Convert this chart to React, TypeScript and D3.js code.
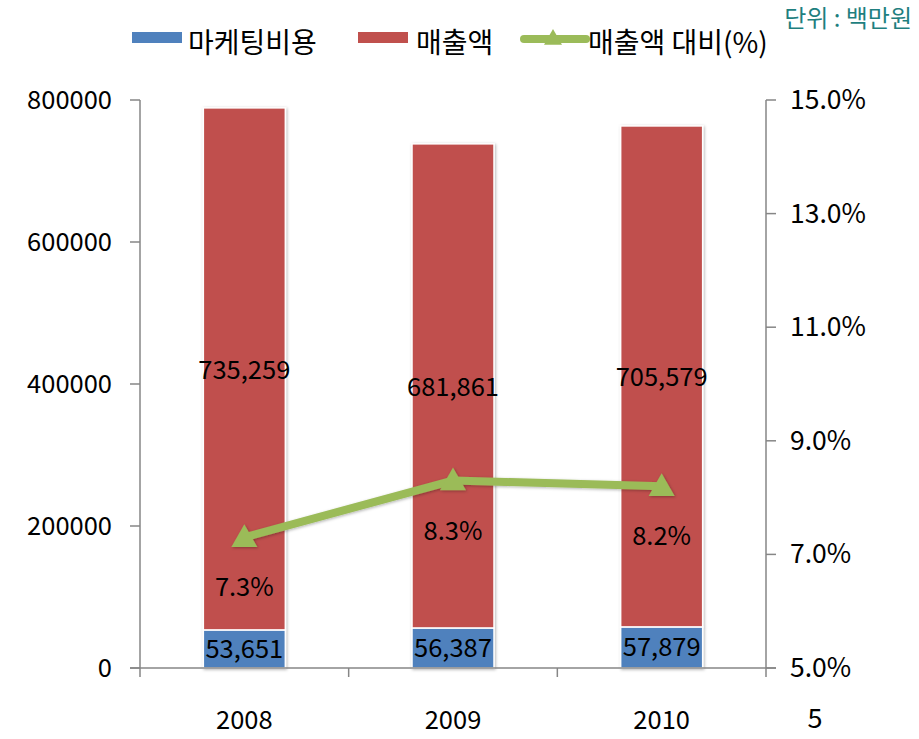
import React from "react";
import * as d3 from "d3";

const years = ["2008", "2009", "2010"];
const marketing = [53651, 56387, 57879];
const sales = [735259, 681861, 705579];
const ratio = [7.3, 8.3, 8.2];
const leftTicks = [0, 200000, 400000, 600000, 800000];
const rightTicks = [5, 7, 9, 11, 13, 15];

const W = 919, H = 739;
const left = 140, right = 766, top = 100, bottom = 668;
const FONT = "'Noto Sans CJK KR', 'Noto Sans', sans-serif";
const BLUE = "#4F81BD", RED = "#C0504D", GREEN = "#9BBB59", AXIS = "#868686";
const FS = 25.5;

export default function App() {
  const x = d3.scaleBand<string>().domain(years).range([left, right]).paddingInner(0).paddingOuter(0);
  const y = d3.scaleLinear().domain([0, 800000]).range([bottom, top]);
  const y2 = d3.scaleLinear().domain([5, 15]).range([bottom, top]);
  const bw = 82;
  const cx = (d: string) => (x(d) as number) + x.bandwidth() / 2;
  const fmt = d3.format(",");
  const line = d3.line<number>().x((_, i) => cx(years[i])).y((d) => y2(d));
  const tri = (px: number, py: number, s = 13) =>
    `M${px},${py - s} L${px + s},${py + s * 0.75} L${px - s},${py + s * 0.75} Z`;

  return (
    <svg width={W} height={H} style={{ position: "absolute", left: 0, top: 0, background: "#fff" }} fontFamily={FONT}>
      <defs>
        <filter id="sh" x="-20%" y="-20%" width="140%" height="140%">
          <feDropShadow dx="1" dy="1" stdDeviation="1.5" floodColor="#000" floodOpacity="0.3" />
        </filter>
      </defs>
      {/* legend */}
      <rect x={132} y={32} width={50} height={11} fill={BLUE} />
      <text x={188} y={53} fontSize={28} fill="#000">마케팅비용</text>
      <rect x={358} y={32} width={50} height={11} fill={RED} />
      <text x={416} y={53} fontSize={28} fill="#000">매출액</text>
      <line x1={524} y1={39} x2={586} y2={39} stroke={GREEN} strokeWidth={8} strokeLinecap="round" />
      <path d={tri(553, 38, 9)} fill={GREEN} />
      <text x={588} y={53} fontSize={28} fill="#000">매출액 대비(%)</text>
      <text x={912} y={27} fontSize={24} fill="#1F7F7F" textAnchor="end">단위 : 백만원</text>

      {/* bars */}
      {years.map((yr, i) => {
        const bx = cx(yr) - bw / 2;
        const m = marketing[i], s = sales[i];
        return (
          <g key={yr} filter="url(#sh)">
            <rect x={bx} y={y(m)} width={bw} height={y(0) - y(m)} fill={BLUE} stroke="#fff" strokeWidth={1.5} />
            <rect x={bx} y={y(m + s)} width={bw} height={y(m) - y(m + s)} fill={RED} stroke="#fff" strokeWidth={1.5} />
          </g>
        );
      })}

      {/* axes */}
      <line x1={left} y1={top} x2={left} y2={bottom} stroke={AXIS} strokeWidth={1.5} />
      {leftTicks.map((t) => (
        <g key={t}>
          <line x1={left - 10} x2={left} y1={y(t)} y2={y(t)} stroke={AXIS} strokeWidth={1.5} />
          <text x={112} y={y(t) + 9} fontSize={FS} textAnchor="end" fill="#000">{t}</text>
        </g>
      ))}
      <line x1={right} y1={top} x2={right} y2={bottom} stroke={AXIS} strokeWidth={1.5} />
      {rightTicks.map((t) => (
        <g key={t}>
          <line x1={right} x2={right + 10} y1={y2(t)} y2={y2(t)} stroke={AXIS} strokeWidth={1.5} />
          <text x={790} y={y2(t) + 9} fontSize={26.5} fill="#000">{t.toFixed(1)}%</text>
        </g>
      ))}
      <line x1={left - 10} y1={bottom} x2={right + 10} y2={bottom} stroke={AXIS} strokeWidth={1.5} />
      {years.map((yr) => (
        <line key={yr} x1={x(yr) as number} x2={x(yr) as number} y1={bottom} y2={bottom + 9} stroke={AXIS} strokeWidth={1.5} />
      ))}
      <line x1={right} x2={right} y1={bottom} y2={bottom + 9} stroke={AXIS} strokeWidth={1.5} />
      {years.map((yr) => (
        <text key={yr} x={cx(yr)} y={729} fontSize={FS} textAnchor="middle" fill="#000">{yr}</text>
      ))}
      <text x={815} y={728} fontSize={27} textAnchor="middle" fill="#000">5</text>

      {/* bar labels */}
      {years.map((yr, i) => {
        const m = marketing[i], s = sales[i];
        return (
          <g key={yr}>
            <text x={cx(yr)} y={(y(0) + y(m)) / 2 + 9} fontSize={FS} textAnchor="middle" fill="#000">{fmt(m)}</text>
            <text x={cx(yr)} y={(y(m) + y(m + s)) / 2 + 10} fontSize={FS} textAnchor="middle" fill="#000">{fmt(s)}</text>
          </g>
        );
      })}

      {/* line */}
      <g filter="url(#sh)">
        <path d={line(ratio) || ""} fill="none" stroke={GREEN} strokeWidth={8} />
        {ratio.map((r, i) => (
          <path key={i} d={tri(cx(years[i]), y2(r))} fill={GREEN} />
        ))}
      </g>
      {ratio.map((r, i) => (
        <text key={i} x={cx(years[i])} y={y2(r) + 59} fontSize={FS} textAnchor="middle" fill="#000">{r.toFixed(1)}%</text>
      ))}
    </svg>
  );
}
